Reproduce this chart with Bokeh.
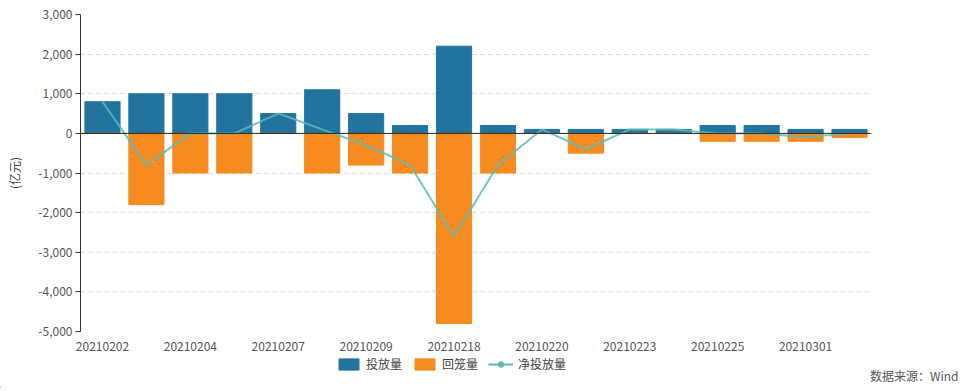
from bokeh.plotting import figure
from bokeh.layouts import column
from bokeh.models import (Range1d, FixedTicker, NumeralTickFormatter, Span, Legend,
                          LegendItem, Label, ColumnDataSource)
from bokeh.embed import file_html
from bokeh.resources import INLINE

dates = ["20210202", "20210203", "20210204", "20210205", "20210207", "20210208",
         "20210209", "20210210", "20210218", "20210219", "20210220", "20210222",
         "20210223", "20210224", "20210225", "20210226", "20210301", "20210302"]
invest = [800, 1000, 1000, 1000, 500, 1100, 500, 200, 2200, 200, 100, 100,
          100, 100, 200, 200, 100, 100]
withdraw = [0, -1800, -1000, -1000, 0, -1000, -800, -1000, -4800, -1000, 0, -500,
            0, 0, -200, -200, -200, -100]
net = [800, -800, 0, 0, 500, 100, -300, -800, -2600, -800, 100, -400,
       100, 100, 0, 0, -100, 0]
series_names = ["投放量", "回笼量", "净投放量"]
source_note = "数据来源：Wind"
unit_label = "(亿元)"

FONT = "Noto Sans CJK SC"
BLUE = "#22749f"
ORANGE = "#f68b1f"
TEAL = "#5cbab6"
W = 960

xs = list(range(len(dates)))
src = ColumnDataSource(dict(x=xs, invest=invest, withdraw=withdraw, net=net,
                            zero=[0] * len(xs)))

p = figure(width=W, height=353, output_backend="svg", toolbar_location=None,
           x_range=Range1d(-0.5, len(dates) - 0.5), y_range=Range1d(-5000, 3000),
           min_border_left=80, min_border_right=89, min_border_top=14, min_border_bottom=22)
p.outline_line_color = None
p.frame_align = False

r1 = p.vbar(x="x", top="invest", bottom="zero", width=0.8, color=BLUE, source=src)
r2 = p.vbar(x="x", top="zero", bottom="withdraw", width=0.8, color=ORANGE, source=src)
p.add_layout(Span(location=0, dimension="width", line_color="#222222", line_width=1))
r3 = p.line(x="x", y="net", line_color=TEAL, line_width=2, line_alpha=0.85, source=src)

p.xgrid.visible = False
p.ygrid.grid_line_color = "#d4d4d4"
p.ygrid.grid_line_dash = "4 4"
p.ygrid.grid_line_width = 1

p.yaxis.ticker = FixedTicker(ticks=list(range(-5000, 3001, 1000)))
p.yaxis.formatter = NumeralTickFormatter(format="0,0")
p.yaxis.axis_line_color = "#333333"
p.yaxis.major_tick_line_color = "#333333"
p.yaxis.major_tick_out = 5
p.yaxis.major_tick_in = 0
p.yaxis.minor_tick_line_color = None
p.yaxis.major_label_text_font = FONT
p.yaxis.major_label_text_font_size = "12px"
p.yaxis.major_label_text_color = "#555555"
p.yaxis.major_label_standoff = 3
p.yaxis.axis_label = unit_label
p.yaxis.axis_label_text_font = FONT
p.yaxis.axis_label_text_font_size = "12px"
p.yaxis.axis_label_text_font_style = "normal"
p.yaxis.axis_label_text_color = "#444444"
p.yaxis.axis_label_standoff = 12

p.xaxis.ticker = FixedTicker(ticks=xs[::2])
p.xaxis.major_label_overrides = {i: dates[i] for i in xs}
p.xaxis.axis_line_color = None
p.xaxis.major_tick_line_color = None
p.xaxis.minor_tick_line_color = None
p.xaxis.major_label_text_font = FONT
p.xaxis.major_label_text_font_size = "12px"
p.xaxis.major_label_text_color = "#555555"
p.xaxis.major_label_standoff = 4

# bottom strip: legend + source note
p2 = figure(width=W, height=35, output_backend="svg", toolbar_location=None,
            x_range=Range1d(0, W), y_range=Range1d(0, 35),
            min_border_left=0, min_border_right=0, min_border_top=0, min_border_bottom=0)
p2.frame_align = False
p2.axis.visible = False
p2.grid.visible = False
p2.outline_line_color = None
# legend proxies placed outside the visible range
l1 = p2.vbar(x=[-100], top=[1], bottom=[0], width=1, color=BLUE)
l2 = p2.vbar(x=[-100], top=[1], bottom=[0], width=1, color=ORANGE)
l3 = p2.line(x=[-110, -100], y=[1, 1], line_color=TEAL, line_width=2)
l3m = p2.scatter(x=[-100], y=[1], size=9, color=TEAL)

legend = Legend(items=[LegendItem(label=series_names[0], renderers=[l1]),
                       LegendItem(label=series_names[1], renderers=[l2]),
                       LegendItem(label=series_names[2], renderers=[l3, l3m])],
                orientation="horizontal", location=(336, 16),
                label_text_font=FONT, label_text_font_size="12px",
                label_text_color="#444444", glyph_width=25, glyph_height=14,
                spacing=10, padding=2, margin=0, border_line_color=None,
                background_fill_alpha=0, label_standoff=5)
p2.add_layout(legend)

src_lbl = Label(x=W - 2, y=13, text=source_note,
                text_font=FONT, text_font_size="12px", text_color="#555555",
                text_align="right", text_baseline="middle")
p2.add_layout(src_lbl)

layout = column(p, p2, spacing=0)
open("out.html", "w").write(file_html(layout, INLINE))
